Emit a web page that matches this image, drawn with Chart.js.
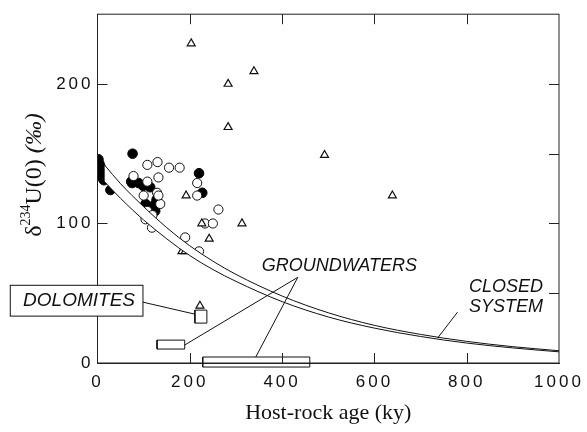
<!DOCTYPE html>
<html>
<head>
<meta charset="utf-8">
<script src="https://cdn.jsdelivr.net/npm/chart.js@4.4.1/dist/chart.umd.min.js"></script>
<style>
  html, body { margin: 0; background: #fff; }
</style>
</head>
<body>
<canvas id="myChart" width="587" height="432"></canvas>
<script>
// values (age in ky, delta in per mil)
const filledAge   = [2, 4, 3, 6, 8, 10, 12, 5, 14, 28, 76, 73, 75, 89, 99, 114, 104, 122, 125, 100, 115, 128, 120, 220, 227];
const filledDelta = [146, 143, 139, 141, 137, 134, 132, 135, 131, 124, 150, 130, 129, 129, 127, 126, 114, 113, 109, 108, 104, 117, 110, 136, 122];

const openAge   = [108, 130, 155, 178, 78, 108, 132, 129, 100, 108, 136, 119, 104, 118, 132, 216, 216, 262, 233, 250, 190, 220];
const openDelta = [142, 144, 140, 140, 134, 130, 133, 122, 120, 109, 114, 106, 103, 97, 120, 129, 120, 110, 100, 100, 90, 80];

const triAge   = [203, 339, 283, 283, 492, 639, 192, 226, 313, 242, 183, 190, 222];
const triDelta = [229, 209, 200, 169, 149, 120, 120, 100, 100, 89, 80, 80, 41];

// closed-system curves (double line)
const curveAge   = [15, 50, 75, 100, 150, 200, 250, 300, 400, 500, 600, 700, 800, 900, 1000];
const curveUpper = [142, 128.5, 120, 112, 97, 84, 73, 63.5, 48, 36, 27, 20.5, 15.5, 11.7, 8.8];
const curveLower = [130, 118, 110, 102.5, 89, 77, 67, 58.5, 44, 33, 25, 19, 14.3, 10.8, 8.0];

// groundwater ranges and dolomite box: [ageFrom, ageTo, deltaFrom, deltaTo]
const groundwater1 = [129, 189, 10, 16.4];
const groundwater2 = [228, 460, -2.9, 4.3];
const dolomites    = [211, 237, 28.6, 37.9];

// axis ticks
const xTickMarks = [200, 400, 600, 800];
const leftTickMarks = [100, 200];
const rightTickMarks = [50, 100, 150, 200];

const xTitle = 'Host-rock age (ky)';

function pts(xs, ys) {
  return xs.map((x, i) => ({ x: x, y: ys[i] }));
}

function boxPts(b) {
  return [
    { x: b[0], y: b[2] }, { x: b[1], y: b[2] },
    { x: b[1], y: b[3] }, { x: b[0], y: b[3] }, { x: b[0], y: b[2] }
  ];
}

function boxSet(b) {
  return {
    data: boxPts(b),
    showLine: true,
    borderColor: '#111',
    borderWidth: 1,
    backgroundColor: '#fff',
    fill: 'shape',
    pointRadius: 0,
    tension: 0,
    clip: false,
    order: 0
  };
}

// labels and leader lines (in data units)
const notes = [
  { text: 'GROUNDWATERS', x: 524, y: 69.3 },
  { text: 'CLOSED', x: 885, y: 54.3 },
  { text: 'SYSTEM', x: 885, y: 40 },
  { text: 'DOLOMITES', x: -40, y: 44.6, box: [-189, 98.5, 33.6, 55.7] }
];
const leaders = [
  [434, 61.4, 189, 12.9],
  [434, 61.4, 343, 4.3],
  [780, 36.4, 737, 17.9],
  [98.5, 43.6, 211, 35]
];

const spacing = {
  id: 'spacing',
  beforeDraw(chart) { chart.ctx.letterSpacing = '3px'; },
  beforeDatasetsDraw(chart) { chart.ctx.letterSpacing = '0px'; }
};

const decor = {
  id: 'decor',
  afterDatasetsDraw(chart) {
    const ctx = chart.ctx;
    const a = chart.chartArea;
    const xs = chart.scales.x, ys = chart.scales.y;
    ctx.save();
    ctx.strokeStyle = '#222';
    ctx.lineWidth = 1;
    ctx.strokeRect(a.left, a.top, a.right - a.left, a.bottom - a.top);

    // inward ticks
    ctx.beginPath();
    xTickMarks.forEach(v => {
      const p = Math.round(xs.getPixelForValue(v)) + 0.5;
      ctx.moveTo(p, a.bottom); ctx.lineTo(p, a.bottom - 10);
      ctx.moveTo(p, a.top); ctx.lineTo(p, a.top + 10);
    });
    leftTickMarks.forEach(v => {
      const p = Math.round(ys.getPixelForValue(v)) + 0.5;
      ctx.moveTo(a.left, p); ctx.lineTo(a.left + 10, p);
    });
    rightTickMarks.forEach(v => {
      const p = Math.round(ys.getPixelForValue(v)) + 0.5;
      ctx.moveTo(a.right, p); ctx.lineTo(a.right - 10, p);
    });
    ctx.stroke();

    // leader lines
    ctx.strokeStyle = '#111';
    ctx.beginPath();
    leaders.forEach(l => {
      ctx.moveTo(xs.getPixelForValue(l[0]), ys.getPixelForValue(l[1]));
      ctx.lineTo(xs.getPixelForValue(l[2]), ys.getPixelForValue(l[3]));
    });
    ctx.stroke();

    // notes
    ctx.fillStyle = '#111';
    ctx.textAlign = 'center';
    ctx.textBaseline = 'middle';
    notes.forEach(n => {
      if (n.box) {
        const x0 = xs.getPixelForValue(n.box[0]), x1 = xs.getPixelForValue(n.box[1]);
        const y0 = ys.getPixelForValue(n.box[2]), y1 = ys.getPixelForValue(n.box[3]);
        ctx.fillStyle = '#fff';
        ctx.fillRect(x0, y1, x1 - x0, y0 - y1);
        ctx.strokeRect(x0, y1, x1 - x0, y0 - y1);
        ctx.fillStyle = '#111';
        ctx.font = 'italic 19px "Liberation Sans"';
      } else {
        ctx.font = 'italic 18px "Liberation Sans"';
      }
      ctx.fillText(n.text, xs.getPixelForValue(n.x), ys.getPixelForValue(n.y));
    });

    // x title
    ctx.font = '22px "Liberation Serif"';
    ctx.textBaseline = 'alphabetic';
    ctx.fillText(xTitle, (a.left + a.right) / 2, 419);

    // y title with superscript
    const parts = [
      { t: '\u03b4', f: '24px "Liberation Serif"', dy: 0 },
      { t: '234', f: '14px "Liberation Serif"', dy: -11 },
      { t: 'U(0) ', f: '24px "Liberation Serif"', dy: 0 },
      { t: '(\u2030)', f: 'italic 24px "Liberation Serif"', dy: 0 }
    ];
    let total = 0;
    parts.forEach(p => { ctx.font = p.f; p.w = ctx.measureText(p.t).width; total += p.w; });
    ctx.translate(41, 175);
    ctx.rotate(-Math.PI / 2);
    ctx.textAlign = 'left';
    let cx = -total / 2;
    parts.forEach(p => {
      ctx.font = p.f;
      ctx.fillText(p.t, cx, p.dy);
      cx += p.w;
    });
    ctx.restore();
  }
};

const ctx = document.getElementById('myChart').getContext('2d');

const data = {
  datasets: [
    {
      data: pts(curveAge, curveUpper),
      showLine: true,
      borderColor: '#111',
      borderWidth: 1,
      pointRadius: 0,
      cubicInterpolationMode: 'monotone',
      fill: false,
      order: 1
    },
    {
      data: pts(curveAge, curveLower),
      showLine: true,
      borderColor: '#111',
      borderWidth: 1,
      pointRadius: 0,
      cubicInterpolationMode: 'monotone',
      backgroundColor: '#fff',
      fill: '-1',
      order: 2
    },
    boxSet(groundwater1),
    boxSet(groundwater2),
    boxSet(dolomites),
    {
      data: pts(triAge, triDelta),
      pointStyle: 'triangle',
      pointRadius: 4.6,
      backgroundColor: '#fff',
      borderColor: '#111',
      borderWidth: 1.2,
      order: 3
    },
    {
      data: pts(openAge, openDelta),
      pointStyle: 'circle',
      pointRadius: 4.6,
      backgroundColor: '#fff',
      borderColor: '#111',
      borderWidth: 1,
      order: 4
    },
    {
      data: pts(filledAge, filledDelta),
      pointStyle: 'circle',
      pointRadius: 4.8,
      backgroundColor: '#000',
      borderColor: '#000',
      borderWidth: 1,
      order: 5
    }
  ]
};

const config = {
  type: 'scatter',
  data: data,
  options: {
    responsive: false,
    animation: false,
    layout: { padding: { left: 0, top: 13, right: 28, bottom: 0 } },
    plugins: { legend: { display: false }, tooltip: { enabled: false } },
    scales: {
      x: {
        type: 'linear',
        min: 0,
        max: 1000,
        afterFit: s => { s.height = 69; },
        grid: { display: false, drawTicks: false },
        border: { display: true, color: '#222', width: 1 },
        ticks: {
          stepSize: 200,
          padding: 9,
          color: '#111',
          font: { family: 'Liberation Sans', size: 17 },
          callback: v => String(v)
        }
      },
      y: {
        type: 'linear',
        min: 0,
        max: 250,
        afterFit: s => { s.width = 97.5; },
        grid: { display: false, drawTicks: false },
        border: { display: true, color: '#222', width: 1 },
        ticks: {
          stepSize: 100,
          includeBounds: false,
          padding: 4,
          color: '#111',
          font: { family: 'Liberation Sans', size: 17 },
          callback: v => String(v)
        }
      }
    }
  },
  plugins: [spacing, decor]
};

var chart = new Chart(ctx, config);
</script>
</body>
</html>
